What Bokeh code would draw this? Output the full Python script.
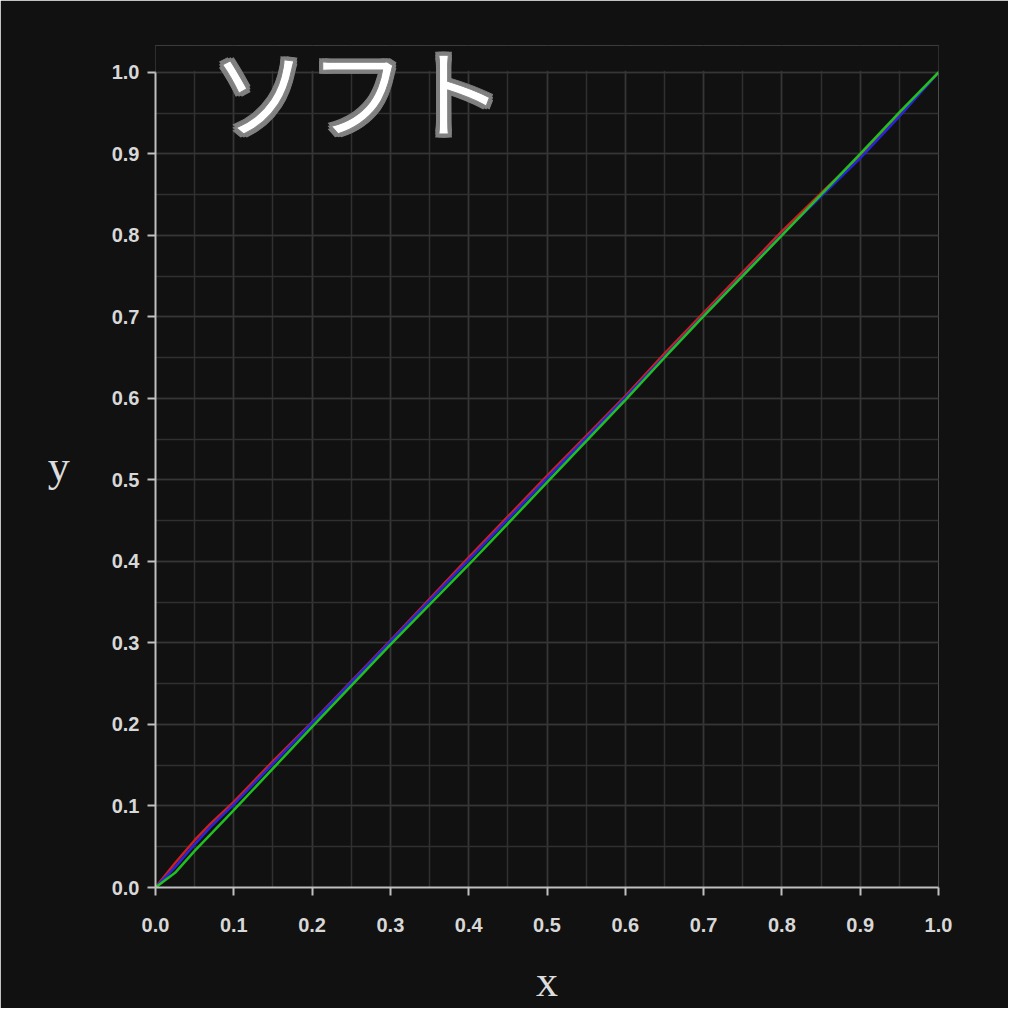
from bokeh.plotting import figure
from bokeh.models import FixedTicker, Range1d, BoxAnnotation, ColumnDataSource
from bokeh.core.properties import value
from bokeh.embed import file_html
from bokeh.resources import INLINE

# tone curve samples (input -> output) per channel
x_red = [0.0, 0.025, 0.05, 0.07, 0.1, 0.15, 0.2, 0.3, 0.4, 0.5, 0.6, 0.65, 0.7, 0.8, 0.85, 0.9, 0.95, 1.0]
y_red = [0.0, 0.03, 0.058, 0.078, 0.105, 0.155, 0.203, 0.303, 0.405, 0.505, 0.603, 0.655, 0.705, 0.805, 0.852, 0.898, 0.948, 1.0]
x_blue = [0.0, 0.025, 0.05, 0.07, 0.1, 0.2, 0.3, 0.4, 0.5, 0.6, 0.7, 0.8, 0.85, 0.9, 0.95, 1.0]
y_blue = [0.0, 0.025, 0.053, 0.074, 0.102, 0.202, 0.302, 0.402, 0.502, 0.601, 0.702, 0.801, 0.848, 0.895, 0.946, 1.0]
x_green = [0.0, 0.025, 0.05, 0.07, 0.1, 0.2, 0.3, 0.4, 0.5, 0.6, 0.65, 0.7, 0.8, 0.85, 0.9, 0.95, 1.0]
y_green = [0.0, 0.018, 0.045, 0.065, 0.095, 0.197, 0.298, 0.396, 0.497, 0.598, 0.65, 0.701, 0.8, 0.85, 0.9, 0.951, 1.0]

ticks = [0.0, 0.1, 0.2, 0.3, 0.4, 0.5, 0.6, 0.7, 0.8, 0.9, 1.0]
tick_labels = {t: f"{t:.1f}" for t in ticks}
title_text = "ソフト"

bg = "#111111"
W = H = 1008
# frame is stretched above y=1 so the big title can overlap the plot top
px_x = 938 - 155
px_y = 888 - 72
top = 45
y_end = (888 - top) / px_y

p = figure(width=W, height=H, output_backend="svg", toolbar_location=None,
           x_range=Range1d(0, 1), y_range=Range1d(0, y_end),
           min_border_left=155, min_border_right=W - 938,
           min_border_top=top, min_border_bottom=H - 888,
           background_fill_color=bg, border_fill_color=bg)
p.outline_line_color = None

for ax in (p.xaxis[0], p.yaxis[0]):
    ax.ticker = FixedTicker(ticks=ticks, minor_ticks=[i / 20 for i in range(21)])
    ax.major_label_overrides = tick_labels
    ax.bounds = (0, 1)
    ax.axis_line_color = "#c0c0c0"
    ax.axis_line_width = 2
    ax.major_tick_line_color = "#c0c0c0"
    ax.major_tick_line_width = 2
    ax.major_tick_out = 8
    ax.major_tick_in = 0
    ax.minor_tick_line_color = None
    ax.major_label_text_color = "#d8d8d8"
    ax.major_label_text_font = "Liberation Sans"
    ax.major_label_text_font_style = "bold"
    ax.major_label_text_font_size = "20px"
    ax.axis_label_text_color = "#dddddd"
    ax.axis_label_text_font = "Liberation Serif"
    ax.axis_label_text_font_style = "normal"
    ax.axis_label_text_font_size = "44px"

p.xaxis.axis_label = "x"
p.yaxis.axis_label = "y"
p.yaxis.axis_label_orientation = "horizontal"
p.xaxis.major_label_standoff = 22
p.yaxis.major_label_standoff = 8
p.xaxis.axis_label_standoff = 22
p.yaxis.axis_label_standoff = 39

for g in (p.xgrid[0], p.ygrid[0]):
    g.grid_line_color = "#363636"
    g.grid_line_width = 1.5
    g.minor_grid_line_color = "#303030"
    g.minor_grid_line_width = 1.5

# hide the grid above y=1
p.add_layout(BoxAnnotation(bottom=1.002, left=-0.05, right=1.05,
                           fill_color=bg, fill_alpha=1.0,
                           line_color=bg, line_alpha=0.0, level="underlay"))

p.line(x_red, y_red, line_color="#cc2020", line_width=2.5)
p.line(x_blue, y_blue, line_color="#2626d8", line_width=2.5)
p.line(x_green, y_green, line_color="#20c020", line_width=2.5)

# title: grey halo copies first, white text on top
tx = (210 - 155) / px_x
ty = (888 - 88) / px_y
halo = [(dx, dy) for dx in (-3, 0, 3) for dy in (-3, 0, 3) if (dx, dy) != (0, 0)]
halo.append((0, 0))
title_src = ColumnDataSource(dict(
    x=[tx + dx / px_x for dx, dy in halo],
    y=[ty + dy / px_y for dx, dy in halo],
    text=[title_text] * len(halo),
    color=["#ffffff" if (dx, dy) == (0, 0) else "#808080" for dx, dy in halo],
))
# note: a size like "100px" trips the svg font parser, so 98px
p.text(x="x", y="y", text="text", text_color="color", source=title_src,
       text_outline_color="#808080",
       text_align="left", text_baseline="middle",
       text_font=value("Noto Sans CJK JP"), text_font_style="normal",
       text_font_size="98px")

open("out.html", "w").write(file_html(p, INLINE))
